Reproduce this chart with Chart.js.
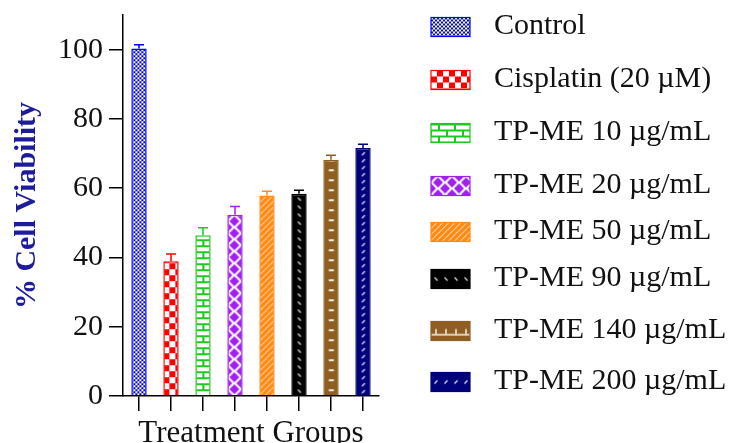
<!DOCTYPE html>
<html>
<head>
<meta charset="utf-8">
<script src="https://cdn.jsdelivr.net/npm/chart.js@4/dist/chart.umd.min.js"></script>
<style>
  html, body { margin: 0; padding: 0; background: #fff; }
  #wrap { width: 733px; height: 443px; position: relative; }
</style>
</head>
<body>
<div id="wrap"><canvas id="c"></canvas></div>
<script>
// ---- Data ----
const categories = ['Control', 'Cisplatin (20 µM)', 'TP-ME 10 µg/mL', 'TP-ME 20 µg/mL',
                    'TP-ME 50 µg/mL', 'TP-ME 90 µg/mL', 'TP-ME 140 µg/mL', 'TP-ME 200 µg/mL'];
const viability = [100.3, 38.9, 46.4, 52.3, 57.9, 58.4, 68.2, 71.6];
const errors    = [1.1, 2.1, 2.2, 2.4, 1.2, 1.0, 1.3, 1.1];
const yTicks    = [0, 20, 40, 60, 80, 100];
const yTitle = '% Cell Viability';
const xTitle = 'Treatment Groups';

// ---- Styles ----
const colors = ['#0000ff', '#ff0000', '#1ec81e', '#a020f0', '#ff8a14', '#000000', '#8f5e22', '#00007a'];
const kinds  = ['fineCheck', 'check', 'brick', 'diamond', 'diag', 'backDash', 'hDash', 'fwdDash'];
const legendRowY = [27, 80, 133, 186, 232, 279, 331, 382];

function makePattern(kind, color, tw, th) {
  const c = document.createElement('canvas');
  const g = c.getContext('2d');
  const W = tw || 16;
  function bg(w, h, col) { c.width = w; c.height = h; g.fillStyle = col; g.fillRect(0, 0, w, h); }
  g.lineCap = 'round';
  switch (kind) {
    case 'fineCheck':
      bg(4, 4, color); g.fillStyle = '#fff'; g.fillRect(0, 0, 2, 2); g.fillRect(2, 2, 2, 2); break;
    case 'check':
      bg(12, 12, color); g.fillStyle = '#fff'; g.fillRect(0, 0, 6, 6); g.fillRect(6, 6, 6, 6); break;
    case 'brick':
      bg(16, 12, '#fff'); g.fillStyle = color;
      g.fillRect(0, 0, 16, 2); g.fillRect(0, 6, 16, 2);
      g.fillRect(7, 0, 2, 6); g.fillRect(0, 6, 1, 6); g.fillRect(15, 6, 1, 6); break;
    case 'diamond': {
      bg(14, 12, '#fff'); g.fillStyle = color;
      const d = (x, y) => { g.beginPath(); g.moveTo(x, y - 5); g.lineTo(x + 5, y); g.lineTo(x, y + 5); g.lineTo(x - 5, y); g.closePath(); g.fill(); };
      d(0, 0); d(14, 0); d(0, 12); d(14, 12); d(7, 6); break;
    }
    case 'diag':
      bg(6, 6, color); g.strokeStyle = 'rgba(255,255,255,0.85)'; g.lineWidth = 1; g.lineCap = 'butt';
      g.beginPath(); g.moveTo(0, 6); g.lineTo(6, 0); g.moveTo(-1, 1); g.lineTo(1, -1); g.moveTo(5, 7); g.lineTo(7, 5); g.stroke(); break;
    case 'backDash': {
      const H = th || 8;
      bg(W, H, color); g.strokeStyle = '#ddd'; g.lineWidth = 1.2;
      g.beginPath(); g.moveTo(W / 2 - 1.5, H / 2 - 1.5); g.lineTo(W / 2 + 1.5, H / 2 + 1.5); g.stroke(); break;
    }
    case 'hDash': {
      const H = th || 10;
      bg(W, H, color); g.fillStyle = '#f4f0e8';
      if (th) { g.fillRect(0, H / 2 + 3, W, 1.5); g.fillRect(W / 2 - 0.75, H / 2 - 2, 1.5, 5); }
      else g.fillRect(W / 2 - 2.5, H / 2 - 1, 5, 2);
      break;
    }
    case 'fwdDash': {
      const H = th || 7;
      bg(W, H, color); g.strokeStyle = '#e8e8ff'; g.lineWidth = 1.2;
      g.beginPath(); g.moveTo(W / 2 - 1.5, H / 2 + 1.5); g.lineTo(W / 2 + 1.5, H / 2 - 1.5); g.stroke(); break;
    }
  }
  return g.createPattern(c, 'repeat');
}

const barPatterns = kinds.map((k, i) => makePattern(k, colors[i], 16));
const legendPatterns = kinds.map((k, i) => makePattern(k, colors[i], 10, 19));

const patternAlign = {
  id: 'patternAlign',
  beforeDatasetsDraw(chart) {
    const meta = chart.getDatasetMeta(0);
    meta.data.forEach((el, i) => {
      const p = barPatterns[i];
      if (p && p.setTransform) p.setTransform(new DOMMatrix([1, 0, 0, 1, el.x - el.width / 2, el.base]));
    });
  }
};

const errorBars = {
  id: 'errorBars',
  afterDatasetsDraw(chart) {
    const ctx = chart.ctx, y = chart.scales.y;
    const meta = chart.getDatasetMeta(0);
    ctx.save();
    meta.data.forEach((el, i) => {
      const top = y.getPixelForValue(viability[i] + errors[i]);
      ctx.strokeStyle = colors[i];
      ctx.lineWidth = 1.5;
      ctx.beginPath();
      ctx.moveTo(el.x, el.y); ctx.lineTo(el.x, top);
      ctx.moveTo(el.x - 5, top); ctx.lineTo(el.x + 5, top);
      ctx.stroke();
    });
    ctx.restore();
  }
};

const sideLegend = {
  id: 'sideLegend',
  afterDraw(chart) {
    const ctx = chart.ctx;
    ctx.save();
    categories.forEach((name, i) => {
      const cy = legendRowY[i];
      const bx = 431, bw = 39, bh = 19, by = cy - bh / 2;
      const p = legendPatterns[i];
      if (p && p.setTransform) p.setTransform(new DOMMatrix([1, 0, 0, 1, bx, by]));
      ctx.fillStyle = p;
      ctx.fillRect(bx, by, bw, bh);
      ctx.strokeStyle = colors[i];
      ctx.lineWidth = 1.2;
      ctx.strokeRect(bx, by, bw, bh);
      ctx.fillStyle = '#111';
      ctx.font = '30px "Liberation Serif", "Times New Roman", serif';
      ctx.textBaseline = 'middle';
      ctx.textAlign = 'left';
      ctx.fillText(name, 494, cy - 1);
    });
    ctx.restore();
  }
};

Chart.defaults.color = '#111';
Chart.defaults.font.family = '"Liberation Serif", "Times New Roman", serif';

new Chart(document.getElementById('c'), {
  type: 'bar',
  data: {
    labels: categories,
    datasets: [{
      data: viability,
      backgroundColor: barPatterns,
      borderColor: colors,
      borderWidth: 1.5,
      categoryPercentage: 1,
      barPercentage: 0.48
    }]
  },
  options: {
    responsive: true,
    maintainAspectRatio: false,
    animation: false,
    devicePixelRatio: 1,
    layout: { padding: { top: 0, right: 354, left: 0, bottom: 0 } },
    plugins: { legend: { display: false }, tooltip: { enabled: false } },
    scales: {
      x: {
        grid: { display: true, drawOnChartArea: false, drawTicks: true, tickLength: 15, color: '#000', lineWidth: 1.5, offset: false },
        border: { display: true, color: '#000', width: 1.5 },
        ticks: { display: false },
        title: { display: true, text: xTitle, color: '#111', font: { size: 31, lineHeight: 0.9 }, padding: { top: 0, bottom: -5 } },
        afterFit(scale) { scale.height = 47; }
      },
      y: {
        min: 0, max: 110,
        afterBuildTicks(scale) { scale.ticks = yTicks.map(v => ({ value: v })); },
        grid: { display: true, drawOnChartArea: false, drawTicks: true, tickLength: 14, color: '#000', lineWidth: 1.5 },
        border: { display: true, color: '#000', width: 1.5 },
        ticks: { font: { size: 30, lineHeight: 1 }, padding: 6, color: '#111' },
        title: { display: true, text: yTitle, color: '#1c1c9c', font: { size: 30, weight: 'bold', lineHeight: 1 }, padding: { top: 12, bottom: 0 } },
        afterFit(scale) { scale.width = 123; scale.paddingTop = 15; scale.paddingBottom = 0; }
      }
    }
  },
  plugins: [patternAlign, errorBars, sideLegend]
});
</script>
</body>
</html>
